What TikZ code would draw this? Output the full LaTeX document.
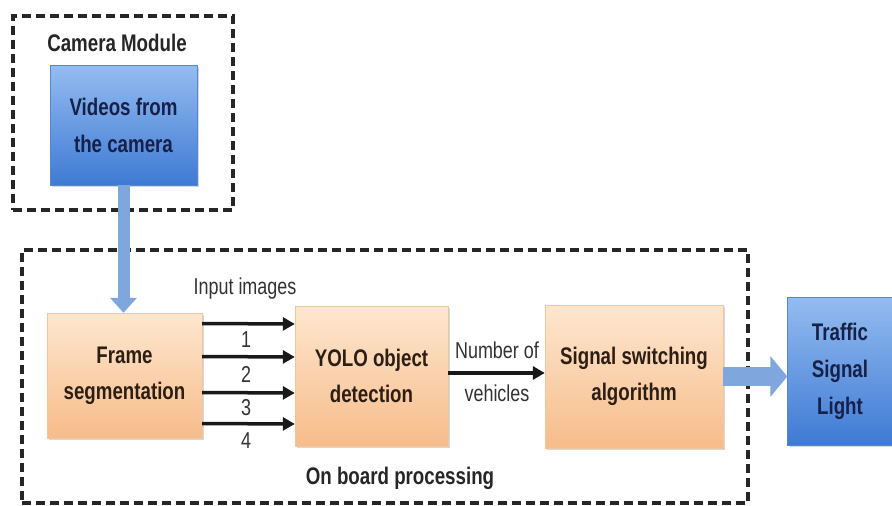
\documentclass[tikz,border=0pt]{standalone}
\usepackage{fontspec}
\setmainfont{Liberation Sans}[FakeStretch=0.78]
\usetikzlibrary{arrows.meta,shadows,positioning,calc}
\definecolor{orgtop}{RGB}{253,231,207}
\definecolor{orgbot}{RGB}{247,188,138}
\definecolor{orgedge}{RGB}{238,198,160}
\definecolor{blutop}{RGB}{148,188,240}
\definecolor{blubot}{RGB}{62,122,212}
\definecolor{bluedge}{RGB}{85,135,205}
\definecolor{bluarr}{RGB}{128,166,222}
\definecolor{txtbrn}{RGB}{45,30,20}
\definecolor{txtnvy}{RGB}{22,32,72}

\begin{document}
\begin{tikzpicture}[x=1pt,y=-1pt,
    proc/.style={rectangle,draw=orgedge,top color=orgtop,bottom color=orgbot,
                 drop shadow={shadow xshift=2pt,shadow yshift=-2pt,opacity=0.3},
                 font=\bfseries\fontsize{24}{36}\selectfont,text=txtbrn,align=center},
    cam/.style={rectangle,draw=bluedge,top color=blutop,bottom color=blubot,
                drop shadow={shadow xshift=2pt,shadow yshift=-2pt,opacity=0.3},
                font=\bfseries\fontsize{24}{37}\selectfont,text=txtnvy,align=center},
    grp/.style={rectangle,draw=black!85,line width=3.5pt,dash pattern=on 9pt off 5pt},
    lbl/.style={font=\fontsize{23}{26}\selectfont,text=black!80,inner sep=1pt},
    ttl/.style={font=\bfseries\fontsize{24}{28}\selectfont,text=black!85},
    arr/.style={line width=3.5pt,black!90,-{Triangle[width=13pt,length=12pt]}},
    fat/.style={bluarr,-{Triangle[width=26pt,length=15pt]}}]

    \useasboundingbox[fill=white] (0,0) rectangle (892,506);

    % dashed groups
    \node[grp,minimum width=220,minimum height=194] (camgrp) at (123,113) {};
    \node[grp,minimum width=726,minimum height=253] (brdgrp) at (385,376.5) {};
    \node[ttl] (camlbl) at (117,43) {Camera Module};
    \node[ttl] (brdlbl) at (400,478) {On board processing};

    \node[cam,minimum width=147,minimum height=120] (video) at (123.5,125)
      {Videos from\\the camera};
    \node[proc,minimum width=155,minimum height=125] (frame) at (124.5,375.5)
      {Frame\\segmentation};
    \node[proc,minimum width=153,minimum height=140] (yolo) at (371.5,376)
      {YOLO object\\detection};
    \node[proc,minimum width=178,minimum height=143] (signal) at (634,376.5)
      {Signal switching\\algorithm};
    \node[cam,minimum width=105,minimum height=148] (light) at (840,371)
      {Traffic\\Signal\\Light};

    \draw[fat,line width=12pt] (video.south) -- (video.south |- frame.north);
    \draw[fat,line width=19pt,-{Triangle[width=40pt,length=17pt]}]
      (signal.east) -- (signal.east -| light.west);

    \foreach \dy in {52,19,-17,-48}
      \draw[arr] ([yshift=\dy pt]frame.east) -- ([yshift=\dy pt]yolo.west);
    \node[lbl] (inp) at (245,289) {Input images};
    \node[lbl] (n1) at (246,340) {1};
    \node[lbl] (n2) at (246,374) {2};
    \node[lbl] (n3) at (246,408) {3};
    \node[lbl] (n4) at (246,441) {4};

    \draw[arr] ([yshift=3pt]yolo.east) -- ([yshift=3pt]yolo.east -| signal.west);
    \node[lbl] (numof) at (497,350) {Number of};
    \node[lbl] (veh) at (497,393) {vehicles};
  \end{tikzpicture}
\end{document}
